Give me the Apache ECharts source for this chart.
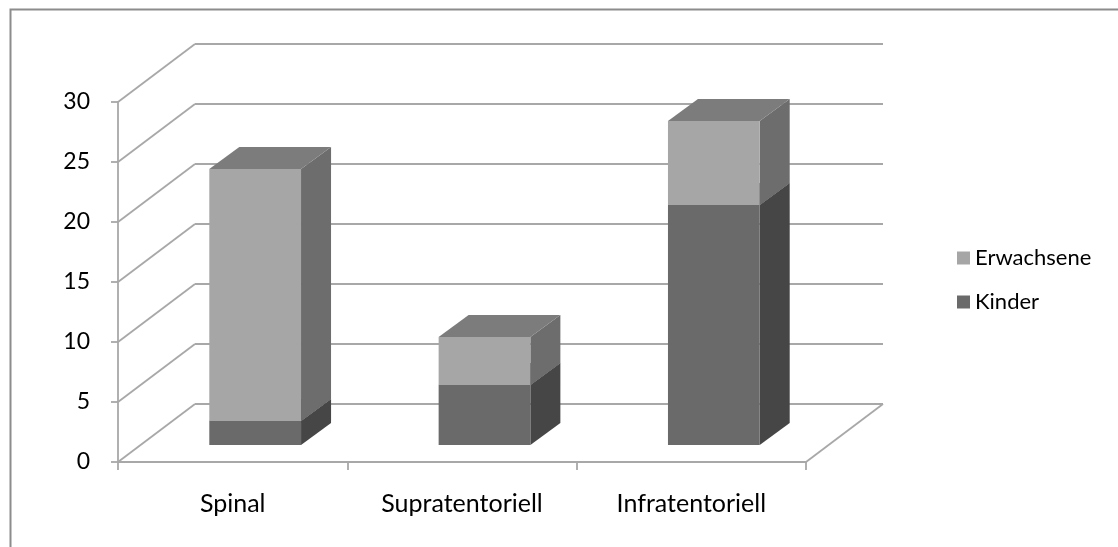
<!DOCTYPE html>
<html>
<head>
<meta charset="utf-8">
<script src="https://cdn.jsdelivr.net/npm/echarts@6/dist/echarts.min.js"></script>
<style>
  html, body { margin: 0; padding: 0; background: #fff; }
  #chart { width: 1118px; height: 547px; }
</style>
</head>
<body>
<div id="chart"></div>
<script>
// Tumour locations, stacked by age group
const categories = ['Spinal', 'Supratentoriell', 'Infratentoriell'];
const kinder = [2, 5, 20];
const erwachsene = [21, 4, 7];
const yTicks = [0, 5, 10, 15, 20, 25, 30];

const FONT = 'Lato';
const GRID_COLOR = '#a8a8a8';

// pseudo-3D geometry (pixels): wall depth, bar placement inside the depth, bar depth
const WALL_DEPTH = [77, -58];
const BAR_OFFSET = [22.5, -17];
const BAR_DEPTH = [30, -22];
const BAR_FRACTION = 0.4;

const lineStyle = { stroke: GRID_COLOR, lineWidth: 1.8, fill: null };

// back wall and side wall lines, one per tick value
function wallItem(params, api) {
  const cs = params.coordSys;
  const v = api.value(1);
  const y = api.coord([0, v])[1];
  const xl = cs.x, xr = cs.x + cs.width;
  const dx = WALL_DEPTH[0], dy = WALL_DEPTH[1];
  const children = [
    { type: 'line', shape: { x1: xl, y1: y, x2: xl + dx, y2: y + dy }, style: lineStyle },
    { type: 'line', shape: { x1: xl + dx, y1: y + dy, x2: xr + dx, y2: y + dy }, style: lineStyle }
  ];
  if (v === yTicks[0]) {
    children.push({ type: 'line', shape: { x1: xr, y1: y, x2: xr + dx, y2: y + dy }, style: lineStyle });
  }
  return { type: 'group', children };
}

// a 3D box segment for one stacked series
function boxItem(bases, colors) {
  return function (params, api) {
    const i = api.value(0);
    const v = api.value(1);
    const base = bases[i];
    const w = api.size([1, 0])[0] * BAR_FRACTION;
    const p0 = api.coord([i, base]);
    const p1 = api.coord([i, base + v]);
    const x0 = p0[0] - w / 2 + BAR_OFFSET[0];
    const x1 = x0 + w;
    const yb = p0[1] + BAR_OFFSET[1];
    const yt = p1[1] + BAR_OFFSET[1];
    const dx = BAR_DEPTH[0], dy = BAR_DEPTH[1];
    return {
      type: 'group',
      children: [
        { type: 'polygon', shape: { points: [[x1, yb], [x1 + dx, yb + dy], [x1 + dx, yt + dy], [x1, yt]] }, style: { fill: colors.side } },
        { type: 'polygon', shape: { points: [[x0, yt], [x1, yt], [x1 + dx, yt + dy], [x0 + dx, yt + dy]] }, style: { fill: colors.top } },
        { type: 'rect', shape: { x: x0, y: yt, width: w, height: yb - yt }, style: { fill: colors.front } }
      ]
    };
  };
}

const zeros = categories.map(() => 0);
const kinderColors = { front: '#6a6a6a', side: '#464646', top: '#5a5a5a' };
const erwColors = { front: '#a6a6a6', side: '#6d6d6d', top: '#7c7c7c' };

const chart = echarts.init(document.getElementById('chart'), null, { renderer: 'canvas' });
chart.setOption({
  animation: false,
  backgroundColor: '#fff',
  textStyle: { fontFamily: FONT },
  graphic: [{
    type: 'rect', left: 8, top: 7, z: 100,
    shape: { width: 1200, height: 600 },
    style: { fill: null, stroke: '#8c8c8c', lineWidth: 2 }
  }],
  grid: { left: 118, top: 102, width: 688, height: 360, containLabel: false },
  legend: {
    orient: 'vertical',
    left: 957, top: 246, padding: 0,
    itemWidth: 13, itemHeight: 13, itemGap: 20,
    icon: 'rect',
    data: ['Erwachsene', 'Kinder'],
    textStyle: { fontFamily: FONT, fontSize: 22, color: '#000', lineHeight: 24 }
  },
  xAxis: {
    type: 'category',
    data: categories,
    boundaryGap: true,
    axisLine: { lineStyle: { color: GRID_COLOR, width: 1.8 } },
    axisTick: { show: true, interval: 0, length: 8, lineStyle: { color: GRID_COLOR, width: 1.8 } },
    axisLabel: { color: '#000', fontFamily: FONT, fontSize: 25, margin: 29, interval: 0 },
    splitLine: { show: false }
  },
  yAxis: {
    type: 'value',
    min: 0, max: 30, interval: 5,
    axisLine: { show: true, lineStyle: { color: GRID_COLOR, width: 1.8 } },
    axisTick: { show: true, length: 7, lineStyle: { color: GRID_COLOR, width: 1.8 } },
    axisLabel: { color: '#000', fontFamily: FONT, fontSize: 23, margin: 28 },
    splitLine: { show: false }
  },
  series: [
    {
      name: 'walls', type: 'custom', z: 1, clip: false, silent: true,
      renderItem: wallItem,
      data: yTicks.map(v => [0, v])
    },
    {
      name: 'Kinder', type: 'custom', z: 2, clip: false,
      itemStyle: { color: kinderColors.front },
      renderItem: boxItem(zeros, kinderColors),
      data: kinder.map((v, i) => [i, v])
    },
    {
      name: 'Erwachsene', type: 'custom', z: 3, clip: false,
      itemStyle: { color: erwColors.front },
      renderItem: boxItem(kinder, erwColors),
      data: erwachsene.map((v, i) => [i, v])
    }
  ]
});
</script>
</body>
</html>
